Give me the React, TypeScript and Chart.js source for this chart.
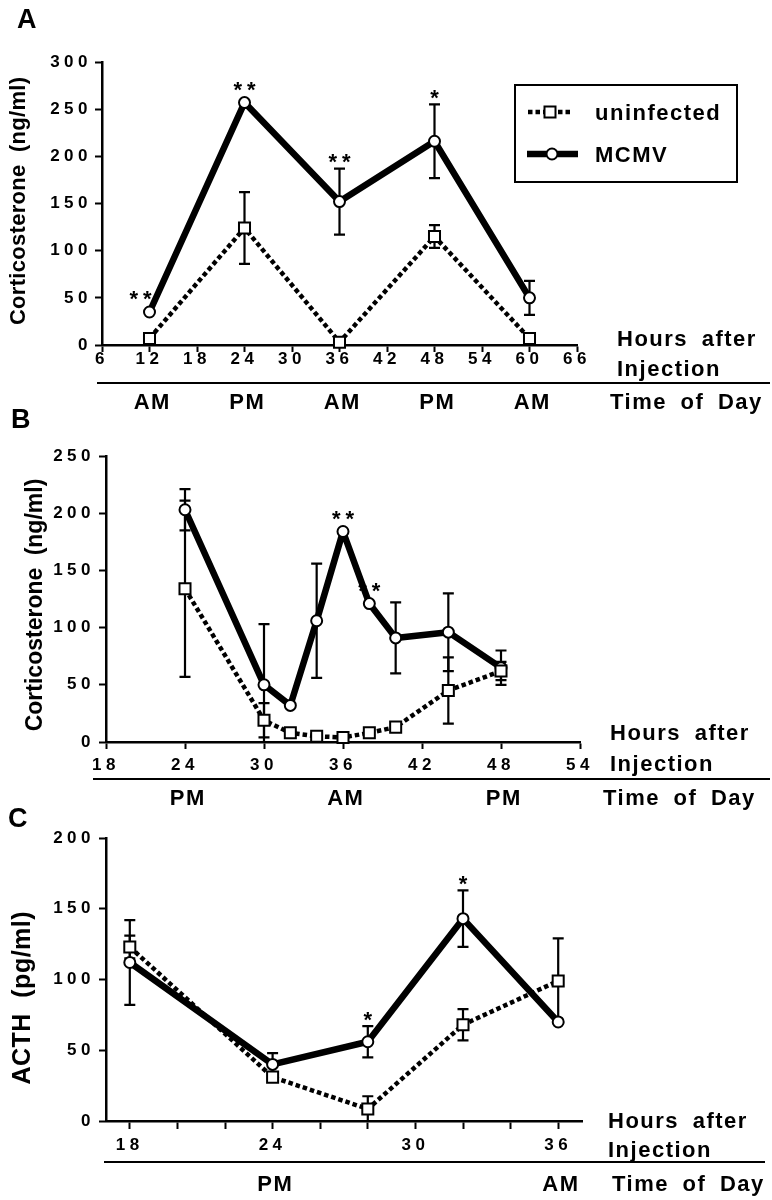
import React, { useEffect, useRef } from "react";
import { Chart, registerables } from "chart.js";

Chart.register(...registerables);

const FONT = '"Liberation Sans", Arial, Helvetica, sans-serif';

// ---------- shared ----------
const seriesNames = ["uninfected", "MCMV"];

// ---------- Panel A : corticosterone (ng/ml), hours after injection ----------
const hoursA = [12, 24, 36, 48, 60];
const uninfectedA = [7, 124, 3, 115, 7];
const uninfectedErrA = [0, 38, 0, 12, 0];
const mcmvA = [35, 257, 152, 216, 50];
const mcmvErrA = [0, 0, 35, 39, 18];
const sigA = ["**", "**", "**", "*", ""];
const xTicksA = [6, 12, 18, 24, 30, 36, 42, 48, 54, 60, 66];
const yTicksA = [0, 50, 100, 150, 200, 250, 300];
const dayHoursA = [12, 24, 36, 48, 60];
const dayLabelsA = ["AM", "PM", "AM", "PM", "AM"];

// ---------- Panel B : corticosterone (ng/ml), 24–48 h ----------
const hoursB = [24, 30, 32, 34, 36, 38, 40, 44, 48];
const uninfectedB = [134, 19, 8, 5, 4, 8, 13, 45, 62];
const uninfectedErrB = [77, 15, 0, 0, 0, 0, 0, 29, 8];
const mcmvB = [203, 50, 32, 106, 184, 121, 91, 96, 65];
const mcmvErrB = [18, 53, 0, 50, 0, 0, 31, 34, 15];
const sigB = ["", "", "", "", "**", "**", "", "", ""];
const xTicksB = [18, 24, 30, 36, 42, 48, 54];
const yTicksB = [0, 50, 100, 150, 200, 250];
const dayHoursB = [24, 36, 48];
const dayLabelsB = ["PM", "AM", "PM"];

// ---------- Panel C : ACTH (pg/ml) ----------
const hoursC = [18, 24, 28, 32, 36];
const uninfectedC = [123, 31, 8.5, 68, 99];
const uninfectedErrC = [8, 0, 9, 11, 30];
const mcmvC = [112, 40, 56, 143, 70];
const mcmvErrC = [30, 8, 11, 20, 0];
const sigC = ["", "", "*", "*", ""];
const xTicksC = [18, 20, 22, 24, 26, 28, 30, 32, 34, 36];
const xLabelsC = [18, 24, 30, 36];
const yTicksC = [0, 50, 100, 150, 200];
const dayHoursC = [24, 36];
const dayLabelsC = ["PM", "AM"];

const hoursTitle = ["Hours after", "Injection"];
const dayTitle = "Time of Day";

type Panel = {
  canvasTop: number;
  canvasHeight: number;
  left: number;
  right: number;
  top: number;
  bottom: number;
  xMin: number;
  xMax: number;
  yMax: number;
  xTicks: number[];
  xLabels: number[] | null;
  yTicks: number[];
  xTickPad: number;
  yTickPad: number;
  xTickLen: number;
  hours: number[];
  uninf: number[];
  uninfErr: number[];
  mcmv: number[];
  mcmvErr: number[];
  sig: string[];
  letter: string;
  letterX: number;
  letterBase: number;
  yTitle: string;
  yTitleX: number;
  yTitleY: number;
  yTitleSize: number;
  yTitleSpacing: number;
  yTitleWord: number;
  hoursX: number;
  hoursBase1: number;
  hoursBase2: number;
  sepY: number;
  sepX1: number;
  sepX2: number;
  dayBase: number;
  dayTitleX: number;
  dayHours: number[];
  dayLabels: string[];
  legend: boolean;
};

const panels: Panel[] = [
  {
    canvasTop: 0, canvasHeight: 420,
    left: 102, right: 577, top: 62, bottom: 345,
    xMin: 6, xMax: 66, yMax: 300,
    xTicks: xTicksA, xLabels: null, yTicks: yTicksA,
    xTickPad: -3, yTickPad: 3, xTickLen: 7,
    hours: hoursA, uninf: uninfectedA, uninfErr: uninfectedErrA,
    mcmv: mcmvA, mcmvErr: mcmvErrA, sig: sigA,
    letter: "A", letterX: 17, letterBase: 28,
    yTitle: "Corticosterone (ng/ml)", yTitleX: 25, yTitleY: 201,
    yTitleSize: 22, yTitleSpacing: 0.3, yTitleWord: 6,
    hoursX: 617, hoursBase1: 346, hoursBase2: 376,
    sepY: 383, sepX1: 97, sepX2: 770,
    dayBase: 409, dayTitleX: 610,
    dayHours: dayHoursA, dayLabels: dayLabelsA,
    legend: true,
  },
  {
    canvasTop: 405, canvasHeight: 410,
    left: 106, right: 580, top: 456, bottom: 742,
    xMin: 18, xMax: 54, yMax: 250,
    xTicks: xTicksB, xLabels: null, yTicks: yTicksB,
    xTickPad: 6, yTickPad: 4, xTickLen: 7,
    hours: hoursB, uninf: uninfectedB, uninfErr: uninfectedErrB,
    mcmv: mcmvB, mcmvErr: mcmvErrB, sig: sigB,
    letter: "B", letterX: 11, letterBase: 428,
    yTitle: "Corticosterone (ng/ml)", yTitleX: 42, yTitleY: 605,
    yTitleSize: 23, yTitleSpacing: 0, yTitleWord: 6,
    hoursX: 610, hoursBase1: 740, hoursBase2: 771,
    sepY: 779, sepX1: 93, sepX2: 770,
    dayBase: 805, dayTitleX: 603,
    dayHours: dayHoursB, dayLabels: dayLabelsB,
    legend: false,
  },
  {
    canvasTop: 805, canvasHeight: 395,
    left: 106, right: 582, top: 838, bottom: 1121,
    xMin: 17, xMax: 37, yMax: 200,
    xTicks: xTicksC, xLabels: xLabelsC, yTicks: yTicksC,
    xTickPad: 6, yTickPad: 4, xTickLen: 8,
    hours: hoursC, uninf: uninfectedC, uninfErr: uninfectedErrC,
    mcmv: mcmvC, mcmvErr: mcmvErrC, sig: sigC,
    letter: "C", letterX: 8, letterBase: 827,
    yTitle: "ACTH (pg/ml)", yTitleX: 30, yTitleY: 998,
    yTitleSize: 25, yTitleSpacing: 0.5, yTitleWord: 8,
    hoursX: 608, hoursBase1: 1128, hoursBase2: 1157,
    sepY: 1162, sepX1: 104, sepX2: 765,
    dayBase: 1191, dayTitleX: 612,
    dayHours: dayHoursC, dayLabels: dayLabelsC,
    legend: false,
  },
];

const TICK_SPACING = 4.5;

function drawText(
  ctx: any,
  str: string,
  x: number,
  y: number,
  size: number,
  align: "left" | "center" | "right",
  spacing: number,
  wordSpacing = 0
) {
  ctx.save();
  ctx.font = `bold ${size}px ${FONT}`;
  ctx.letterSpacing = `${spacing}px`;
  ctx.wordSpacing = `${wordSpacing}px`;
  ctx.textAlign = align;
  ctx.textBaseline = "alphabetic";
  ctx.fillStyle = "#000";
  const dx = align === "center" ? spacing / 2 : align === "right" ? spacing : 0;
  ctx.fillText(str, x + dx, y);
  ctx.restore();
}

function makeDecor(c: Panel) {
  const off = c.canvasTop;
  const Y = (y: number) => y - off;
  return {
    id: "decor",
    beforeUpdate(chart: any) {
      chart.ctx.letterSpacing = `${TICK_SPACING}px`;
    },
    beforeDraw(chart: any) {
      chart.ctx.letterSpacing = `${TICK_SPACING}px`;
    },
    beforeDatasetsDraw(chart: any) {
      const ctx = chart.ctx;
      const ys = chart.scales.y;
      const ca = chart.chartArea;
      ctx.save();
      ctx.strokeStyle = "#000";
      ctx.lineWidth = 2.2;
      ctx.setLineDash([]);
      ctx.lineCap = "butt";
      chart.data.datasets.forEach((ds: any, di: number) => {
        const meta = chart.getDatasetMeta(di);
        const errs: number[] = ds.errors || [];
        meta.data.forEach((pt: any, i: number) => {
          const e = errs[i];
          if (!e) return;
          const v = ds.data[i].y;
          const yt = ys.getPixelForValue(v + e);
          const ybRaw = ys.getPixelForValue(v - e);
          const clipped = ybRaw > ca.bottom;
          const yb = clipped ? ca.bottom : ybRaw;
          const x = pt.x;
          ctx.beginPath();
          ctx.moveTo(x, yt);
          ctx.lineTo(x, yb);
          ctx.moveTo(x - 5.5, yt);
          ctx.lineTo(x + 5.5, yt);
          if (!clipped) {
            ctx.moveTo(x - 5.5, yb);
            ctx.lineTo(x + 5.5, yb);
          }
          ctx.stroke();
        });
      });
      ctx.restore();
    },
    afterDatasetsDraw(chart: any) {
      const ctx = chart.ctx;
      const ys = chart.scales.y;
      chart.data.datasets.forEach((ds: any, di: number) => {
        if (!ds.sig) return;
        const meta = chart.getDatasetMeta(di);
        meta.data.forEach((pt: any, i: number) => {
          const s = ds.sig[i];
          if (!s) return;
          const e = (ds.errors || [])[i] || 0;
          let top = pt.y - 6.5;
          if (e) top = Math.min(top, ys.getPixelForValue(ds.data[i].y + e));
          // first point with a rising line: keep the stars clear of the line
          const next = meta.data[i + 1];
          const shift = i === 0 && next && next.y < pt.y ? -9 : 0;
          drawText(ctx, s, pt.x + shift, top + 0.5, 22, "center", 5);
        });
      });
    },
    afterDraw(chart: any) {
      const ctx = chart.ctx;
      const xs = chart.scales.x;
      // panel letter
      drawText(ctx, c.letter, c.letterX, Y(c.letterBase), 27, "left", 0);
      // y axis title
      ctx.save();
      ctx.translate(c.yTitleX, Y(c.yTitleY));
      ctx.rotate(-Math.PI / 2);
      drawText(ctx, c.yTitle, 0, 0, c.yTitleSize, "center", c.yTitleSpacing, c.yTitleWord);
      ctx.restore();
      // hours after injection
      drawText(ctx, hoursTitle[0], c.hoursX, Y(c.hoursBase1), 22, "left", 1.5, 6);
      drawText(ctx, hoursTitle[1], c.hoursX, Y(c.hoursBase2), 22, "left", 1.5, 6);
      // separator
      ctx.save();
      ctx.strokeStyle = "#000";
      ctx.lineWidth = 2;
      ctx.beginPath();
      ctx.moveTo(c.sepX1, Y(c.sepY));
      ctx.lineTo(c.sepX2, Y(c.sepY));
      ctx.stroke();
      ctx.restore();
      // time of day
      c.dayHours.forEach((h, i) => {
        drawText(ctx, c.dayLabels[i], xs.getPixelForValue(h) + 2, Y(c.dayBase), 22, "center", 1.5);
      });
      drawText(ctx, dayTitle, c.dayTitleX, Y(c.dayBase), 22, "left", 1.5, 6);
      // legend
      if (c.legend) {
        const ds = chart.data.datasets;
        ctx.save();
        ctx.strokeStyle = "#000";
        ctx.lineWidth = 2;
        ctx.strokeRect(515, Y(85), 222, 97);
        // uninfected entry
        const y1 = Y(112);
        ctx.lineWidth = 4.5;
        ctx.setLineDash([4.5, 3]);
        ctx.beginPath();
        ctx.moveTo(528, y1);
        ctx.lineTo(573, y1);
        ctx.stroke();
        ctx.setLineDash([]);
        ctx.lineWidth = 2;
        ctx.fillStyle = "#fff";
        ctx.fillRect(550 - 5.5, y1 - 5.5, 11, 11);
        ctx.strokeRect(550 - 5.5, y1 - 5.5, 11, 11);
        // MCMV entry
        const y2 = Y(154);
        ctx.lineWidth = 6.5;
        ctx.beginPath();
        ctx.moveTo(527, y2);
        ctx.lineTo(578, y2);
        ctx.stroke();
        ctx.lineWidth = 2;
        ctx.beginPath();
        ctx.arc(552, y2, 5.5, 0, Math.PI * 2);
        ctx.fill();
        ctx.stroke();
        ctx.restore();
        drawText(ctx, ds[0].label, 595, y1 + 7.5, 22, "left", 1.5);
        drawText(ctx, ds[1].label, 595, y2 + 8, 22, "left", 1.5);
      }
    },
  };
}

function buildConfig(c: Panel): any {
  const off = c.canvasTop;
  const tickFont = { family: FONT, size: 17, weight: "bold" };
  const grid = (len: number) => ({
    display: true,
    drawOnChartArea: false,
    drawTicks: true,
    tickLength: len,
    tickWidth: 2,
    tickColor: "#000",
    color: "#000",
  });
  const border = { display: true, color: "#000", width: 2.5 };
  return {
    type: "line",
    data: {
      datasets: [
        {
          label: seriesNames[0],
          data: c.hours.map((h, i) => ({ x: h, y: c.uninf[i] })),
          errors: c.uninfErr,
          borderColor: "#000",
          borderWidth: 4.5,
          borderDash: [4.5, 3],
          borderCapStyle: "butt",
          borderJoinStyle: "round",
          pointStyle: "rect",
          pointRadius: 7.8,
          pointBorderWidth: 2,
          pointBackgroundColor: "#fff",
          pointBorderColor: "#000",
          tension: 0,
          fill: false,
          clip: false,
        },
        {
          label: seriesNames[1],
          data: c.hours.map((h, i) => ({ x: h, y: c.mcmv[i] })),
          errors: c.mcmvErr,
          sig: c.sig,
          borderColor: "#000",
          borderWidth: 6.5,
          borderJoinStyle: "round",
          pointStyle: "circle",
          pointRadius: 5.5,
          pointBorderWidth: 2,
          pointBackgroundColor: "#fff",
          pointBorderColor: "#000",
          tension: 0,
          fill: false,
          clip: false,
        },
      ],
    },
    options: {
      responsive: false,
      animation: false,
      events: [],
      layout: {
        padding: { top: c.top - off, right: 772 - c.right, bottom: 0, left: 0 },
      },
      plugins: {
        legend: { display: false },
        tooltip: { enabled: false },
      },
      scales: {
        x: {
          type: "linear",
          min: c.xMin,
          max: c.xMax,
          afterBuildTicks: (s: any) => {
            s.ticks = c.xTicks.map((v) => ({ value: v }));
          },
          afterFit: (s: any) => {
            s.height = off + c.canvasHeight - c.bottom;
          },
          ticks: {
            font: tickFont,
            color: "#000",
            padding: c.xTickPad,
            autoSkip: false,
            maxRotation: 0,
            minRotation: 0,
            callback: (v: number) =>
              c.xLabels && !c.xLabels.includes(v) ? "" : String(v),
          },
          grid: grid(c.xTickLen),
          border,
        },
        y: {
          type: "linear",
          min: 0,
          max: c.yMax,
          afterBuildTicks: (s: any) => {
            s.ticks = c.yTicks.map((v) => ({ value: v }));
          },
          afterFit: (s: any) => {
            s.width = c.left;
          },
          ticks: {
            font: tickFont,
            color: "#000",
            padding: c.yTickPad,
            callback: (v: number) => String(v),
          },
          grid: grid(7),
          border,
        },
      },
    },
    plugins: [makeDecor(c)],
  };
}

function PanelChart({ cfg }: { cfg: Panel }) {
  const ref = useRef<HTMLCanvasElement | null>(null);
  useEffect(() => {
    if (!ref.current) return;
    const chart = new Chart(ref.current, buildConfig(cfg));
    return () => chart.destroy();
  }, [cfg]);
  return (
    <canvas
      ref={ref}
      width={772}
      height={cfg.canvasHeight}
      style={{
        position: "absolute",
        left: 0,
        top: cfg.canvasTop,
        width: 772,
        height: cfg.canvasHeight,
        display: "block",
      }}
    />
  );
}

export default function App() {
  return (
    <div
      style={{
        position: "absolute",
        left: 0,
        top: 0,
        width: 772,
        height: 1200,
        background: "#fff",
        overflow: "hidden",
      }}
    >
      {panels.map((p) => (
        <PanelChart key={p.letter} cfg={p} />
      ))}
    </div>
  );
}
